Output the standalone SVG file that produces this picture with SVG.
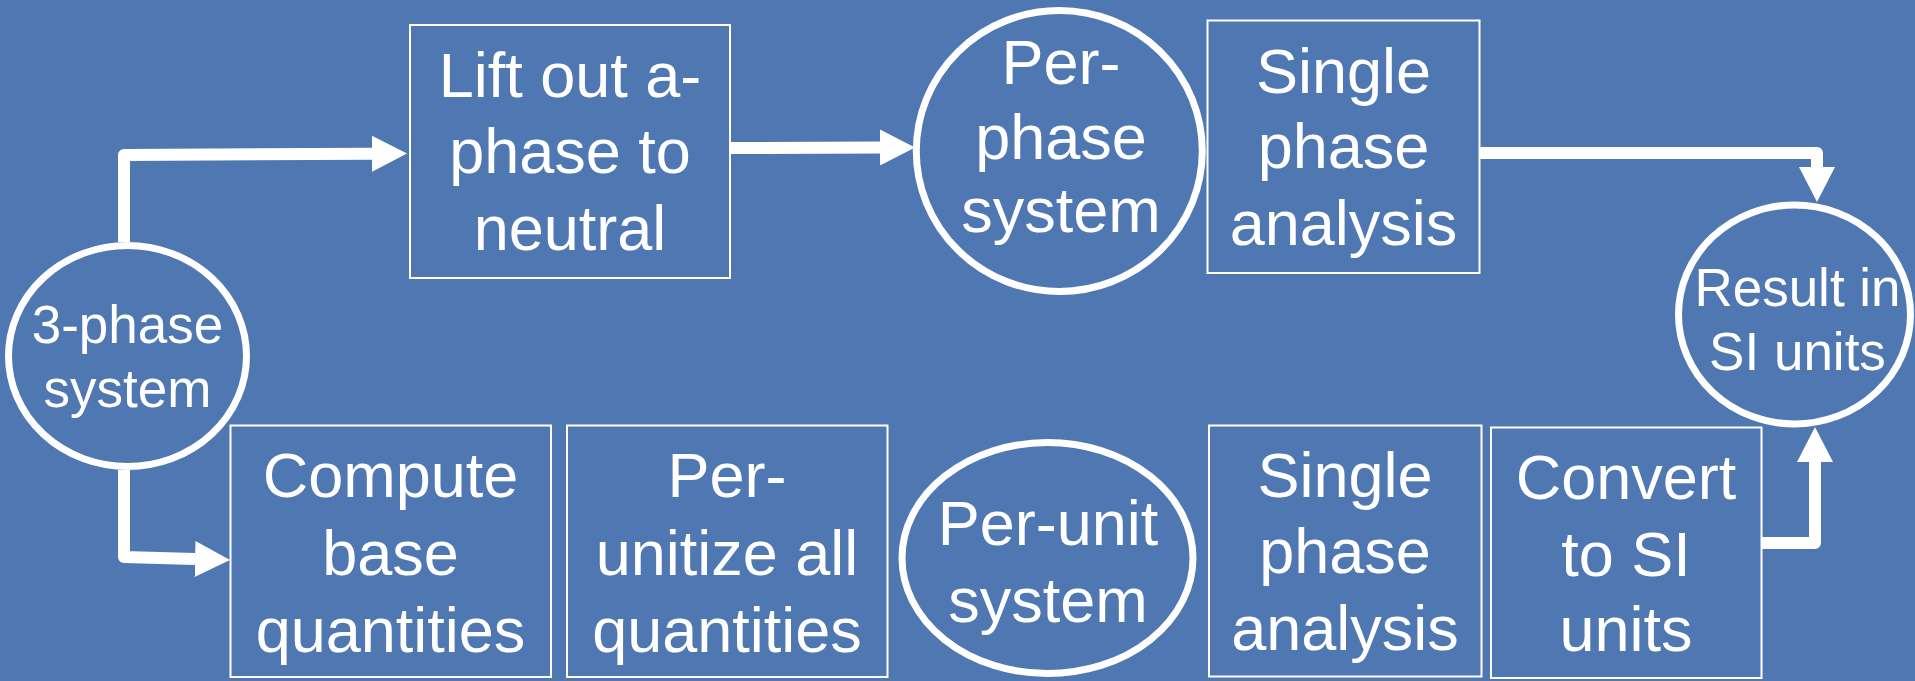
<svg xmlns="http://www.w3.org/2000/svg" width="1915" height="681" viewBox="0 0 1915 681">
<style>
.box{fill:none;stroke:#fff;stroke-width:2}
.ell{fill:none;stroke:#fff;stroke-width:7}
.t{font-family:"Liberation Sans",Arial,sans-serif;fill:#fff;text-anchor:middle}
.big{font-size:63px}
.mid{font-size:63px}
.sm{font-size:53px}
.con{fill:none;stroke:#fff;stroke-width:12;stroke-linejoin:round}
</style>
<defs>
<marker id="ah" markerUnits="userSpaceOnUse" viewBox="0 0 35 36" markerWidth="35" markerHeight="36" refX="0" refY="18" orient="auto">
<path d="M0,0 L35,18 L0,36 z" fill="#fff"/>
</marker>
</defs>
<rect width="1915" height="681" fill="#4F77B1"/>
<g id="connectors">
<path class="con" d="M124,242 L124,155 L372,153.7" marker-end="url(#ah)"/>
<path class="con" d="M731,148 L880,147.5" marker-end="url(#ah)"/>
<path class="con" d="M1479,153 L1817,153 L1817,167" marker-end="url(#ah)"/>
<path class="con" d="M124,470 L124,557 L195,559" marker-end="url(#ah)"/>
<path class="con" d="M1762,543 L1815,543 L1815,462" marker-end="url(#ah)"/>
</g>
<g id="n-3phase">
<ellipse class="ell" cx="127.5" cy="356" rx="119" ry="110.5"/>
<text class="t sm" x="127.5" y="343">3-phase</text>
<text class="t sm" x="127.5" y="407">system</text>
</g>
<g id="n-lift">
<rect class="box" x="410" y="25" width="320" height="253"/>
<text class="t big" x="570" y="97.3">Lift out a-</text>
<text class="t big" x="570" y="173">phase to</text>
<text class="t big" x="570" y="250">neutral</text>
</g>
<g id="n-perphase">
<ellipse class="ell" cx="1059.3" cy="151" rx="143" ry="140.5"/>
<text class="t mid" x="1061" y="84">Per-</text>
<text class="t mid" x="1061" y="159">phase</text>
<text class="t mid" x="1061" y="232">system</text>
</g>
<g id="n-single-top">
<rect class="box" x="1207.5" y="20.5" width="272" height="252.5"/>
<text class="t big" x="1343.5" y="92.7">Single</text>
<text class="t big" x="1343.5" y="168.3">phase</text>
<text class="t big" x="1343.5" y="245">analysis</text>
</g>
<g id="n-result">
<ellipse class="ell" cx="1794.5" cy="314.5" rx="116" ry="109.5"/>
<text class="t sm" x="1797.5" y="306">Result in</text>
<text class="t sm" x="1797.5" y="370">SI units</text>
</g>
<g id="n-compute">
<rect class="box" x="230.5" y="425.5" width="320.5" height="251.5"/>
<text class="t big" x="390.5" y="496.7">Compute</text>
<text class="t big" x="390.5" y="575">base</text>
<text class="t big" x="390.5" y="651.7">quantities</text>
</g>
<g id="n-perunitize">
<rect class="box" x="567" y="425.5" width="320.5" height="251.5"/>
<text class="t big" x="727" y="497">Per-</text>
<text class="t big" x="727" y="575">unitize all</text>
<text class="t big" x="727" y="651.7">quantities</text>
</g>
<g id="n-perunit">
<ellipse class="ell" cx="1047.5" cy="558" rx="145.5" ry="115.5"/>
<text class="t mid" x="1048" y="545">Per-unit</text>
<text class="t mid" x="1048" y="621.7">system</text>
</g>
<g id="n-single-bottom">
<rect class="box" x="1209" y="425.5" width="272.5" height="251"/>
<text class="t big" x="1345" y="496.7">Single</text>
<text class="t big" x="1345" y="573.3">phase</text>
<text class="t big" x="1345" y="650">analysis</text>
</g>
<g id="n-convert">
<rect class="box" x="1491" y="427.5" width="270.5" height="250.5"/>
<text class="t big" x="1626" y="499">Convert</text>
<text class="t big" x="1626" y="575.7">to SI</text>
<text class="t big" x="1626" y="650.7">units</text>
</g>
</svg>
